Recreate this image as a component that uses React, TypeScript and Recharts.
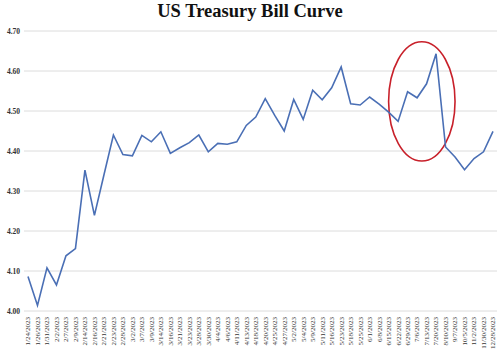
import React from "react";
import { LineChart, Line, XAxis, YAxis, CartesianGrid, ReferenceArea } from "recharts";

const dates = [
  "1/24/2023", "1/26/2023", "1/31/2023", "2/2/2023", "2/7/2023", "2/9/2023", "2/14/2023", "2/16/2023",
  "2/21/2023", "2/23/2023", "2/28/2023", "3/2/2023", "3/7/2023", "3/9/2023", "3/14/2023", "3/16/2023",
  "3/21/2023", "3/23/2023", "3/28/2023", "3/30/2023", "4/4/2023", "4/6/2023", "4/11/2023", "4/13/2023",
  "4/18/2023", "4/20/2023", "4/25/2023", "4/27/2023", "5/2/2023", "5/4/2023", "5/9/2023", "5/11/2023",
  "5/16/2023", "5/23/2023", "5/18/2023", "5/25/2023", "6/1/2023", "6/8/2023", "6/15/2023", "6/22/2023",
  "6/29/2023", "7/6/2023", "7/13/2023", "7/20/2023", "8/10/2023", "9/7/2023", "10/5/2023", "11/2/2023",
  "11/30/2023", "12/28/2023",
];

const yields = [
  4.086, 4.014, 4.108, 4.065, 4.138, 4.156, 4.352, 4.239,
  4.34, 4.44, 4.391, 4.388, 4.439, 4.423, 4.448, 4.394,
  4.408, 4.421, 4.44, 4.398, 4.419, 4.417, 4.423, 4.464,
  4.485, 4.531, 4.489, 4.45, 4.529, 4.479, 4.552, 4.528,
  4.558, 4.61, 4.518, 4.515, 4.535, 4.517, 4.497, 4.474,
  4.548, 4.533, 4.568, 4.643, 4.41, 4.385, 4.353, 4.381,
  4.398, 4.449,
];

const yTicks = [4.0, 4.1, 4.2, 4.3, 4.4, 4.5, 4.6, 4.7];

const data = dates.map((d, i) => ({ date: d, value: yields[i] }));

const FONT = "'Liberation Serif', 'Times New Roman', serif";

const XTick = (props: any) => {
  const { x, y, payload } = props;
  return (
    <g transform={`translate(${x},${y})`}>
      <text
        x={0}
        y={0}
        dy={2.4}
        textAnchor="end"
        transform="rotate(-90)"
        fontSize={7}
        fontFamily={FONT}
        fill="#333"
      >
        {payload.value}
      </text>
    </g>
  );
};

const EllipseShape = (props: any) => {
  const { x, y, width, height } = props;
  return (
    <ellipse
      cx={x + width / 2}
      cy={y + height / 2}
      rx={width / 2}
      ry={height / 2}
      fill="none"
      stroke="#c8202a"
      strokeWidth={1.6}
    />
  );
};

export default function App() {
  return (
    <div style={{ position: "absolute", left: 0, top: 0, width: 500, height: 353, background: "#fff" }}>
      <div
        style={{
          position: "absolute",
          left: 0,
          top: 0,
          width: 500,
          textAlign: "center",
          fontFamily: FONT,
          fontWeight: "bold",
          fontSize: 18.5,
          color: "#111",
          lineHeight: "22px",
        }}
      >
        US Treasury Bill Curve
      </div>
      <LineChart
        width={500}
        height={353}
        data={data}
        margin={{ top: 31, right: 3, bottom: 0, left: 0 }}
      >
        <CartesianGrid horizontal vertical={false} stroke="#dcdcdc" strokeWidth={1} />
        <XAxis
          dataKey="date"
          interval={0}
          tick={<XTick />}
          tickLine={false}
          axisLine={false}
          tickSize={0}
          tickMargin={6}
          height={42}
          padding={{ left: 4, right: 4 }}
        />
        <YAxis
          domain={[4.0, 4.7]}
          ticks={yTicks}
          tickFormatter={(v: number) => v.toFixed(2)}
          tick={{ fontSize: 7.5, fontFamily: FONT, fill: "#333", fontWeight: "bold" }}
          tickLine={false}
          axisLine={false}
          tickSize={0}
          tickMargin={4}
          width={24}
        />
        <Line
          type="linear"
          dataKey="value"
          stroke="#4a6fb5"
          strokeWidth={1.6}
          dot={false}
          isAnimationActive={false}
        />
        <ReferenceArea
          x1={dates[38]}
          x2={dates[45]}
          y1={4.375}
          y2={4.673}
          shape={<EllipseShape />}
          ifOverflow="visible"
        />
      </LineChart>
    </div>
  );
}
